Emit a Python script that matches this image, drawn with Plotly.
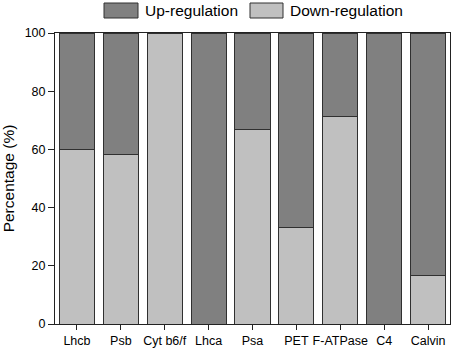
import plotly.graph_objects as go

categories = ["Lhcb", "Psb", "Cyt b6/f", "Lhca", "Psa", "PET", "F-ATPase", "C4", "Calvin"]
down_values = [60.0, 58.3, 100.0, 0.0, 66.7, 33.3, 71.4, 0.0, 16.7]
up_values = [round(100 - v, 1) for v in down_values]
y_ticks = [0, 20, 40, 60, 80, 100]

UP_COLOR = "#808080"
DOWN_COLOR = "#c0c0c0"
EDGE = "#303030"

fig = go.Figure()
fig.add_trace(go.Bar(
    x=categories, y=down_values, name="Down-regulation",
    marker=dict(color=DOWN_COLOR, line=dict(color=EDGE, width=1)),
    width=0.8, showlegend=False,
))
fig.add_trace(go.Bar(
    x=categories, y=up_values, name="Up-regulation",
    marker=dict(color=UP_COLOR, line=dict(color=EDGE, width=1)),
    width=0.8, showlegend=False,
))

# plot area in pixels: x 55..450, y 33..324
L, R, T, B = 55, 450, 33, 324
def px(x):
    return (x - L) / (R - L)
def py(y):
    return (B - y) / (B - T)

legend_items = [("Up-regulation", UP_COLOR, 104, 138, 143), ("Down-regulation", DOWN_COLOR, 250, 283, 288)]
shapes = []
annotations = []
for label, color, x0, x1, tx in legend_items:
    shapes.append(dict(type="rect", xref="paper", yref="paper",
                       x0=px(x0), x1=px(x1), y0=py(18), y1=py(3),
                       fillcolor=color, line=dict(color=EDGE, width=1)))
    annotations.append(dict(text=label, xref="paper", yref="paper", x=px(tx), y=py(10.5),
                            xanchor="left", yanchor="middle", showarrow=False,
                            font=dict(size=15.5, color="black")))

fig.update_layout(
    barmode="stack",
    width=454, height=352,
    margin=dict(l=L, r=454 - R, t=T, b=352 - B),
    paper_bgcolor="white", plot_bgcolor="white",
    font=dict(family="Liberation Sans, Arial, sans-serif", color="black", size=12),
    showlegend=False,
    hovermode=False,
    shapes=shapes,
    annotations=annotations,
    xaxis=dict(
        range=[-0.5, 8.5], showline=True, linecolor="#222", linewidth=1, mirror=True,
        ticks="outside", ticklen=5, tickcolor="#222", tickfont=dict(size=12.5),
        showgrid=False, zeroline=False,
    ),
    yaxis=dict(
        range=[0, 100], tickvals=y_ticks, showline=True, linecolor="#222", linewidth=1,
        mirror=True, ticks="outside", ticklen=6, tickcolor="#222", tickfont=dict(size=12.5),
        showgrid=False, zeroline=False,
        title=dict(text="Percentage (%)", font=dict(size=15.5), standoff=6),
    ),
)

fig.write_html("out.html", config={"displayModeBar": False},
               post_script="document.body.style.margin='0';document.body.style.overflow='hidden';")
